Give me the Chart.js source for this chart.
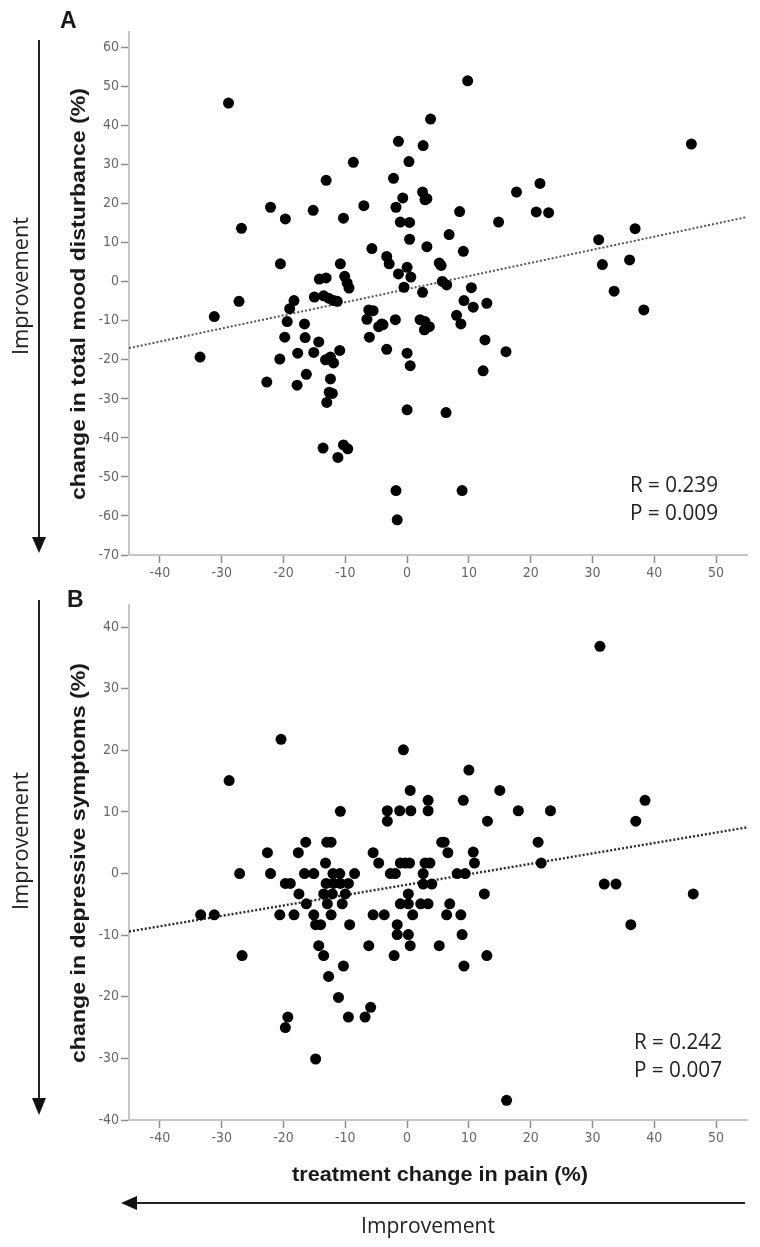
<!DOCTYPE html>
<html>
<head>
<meta charset="utf-8">
<script src="https://cdn.jsdelivr.net/npm/chart.js@4.4.0/dist/chart.umd.min.js"></script>
<style>
  html, body { margin: 0; padding: 0; background: #fff; }
  #wrap { position: relative; width: 760px; height: 1247px; overflow: hidden; }
  canvas { position: absolute; left: 0; }
  #chartA { top: 0; }
  #chartB { top: 590px; }
  #overlay { position: absolute; left: 0; top: 0; pointer-events: none; }
</style>
</head>
<body>
<div id="wrap">
  <canvas id="chartA" width="760" height="590"></canvas>
  <canvas id="chartB" width="760" height="657"></canvas>
  <svg id="overlay" width="760" height="1247" xmlns="http://www.w3.org/2000/svg">
    <g fill="#1a1a1a" font-family="'Liberation Sans', Arial, sans-serif" font-weight="bold">
      <text x="60" y="28" font-size="23">A</text>
      <text x="67" y="607" font-size="23">B</text>
      <text transform="translate(85,294) rotate(-90)" text-anchor="middle" font-size="20"
            textLength="412" lengthAdjust="spacingAndGlyphs">change in total mood disturbance (%)</text>
      <text transform="translate(85,863) rotate(-90)" text-anchor="middle" font-size="20"
            textLength="400" lengthAdjust="spacingAndGlyphs">change in depressive symptoms (%)</text>
      <text x="440" y="1181" text-anchor="middle" font-size="21"
            font-family="'Liberation Sans Narrow', 'Liberation Sans', Arial, sans-serif"
            textLength="296" lengthAdjust="spacingAndGlyphs">treatment change in pain (%)</text>
    </g>
    <g fill="#222" font-family="'Open Sans', 'Noto Sans', sans-serif" font-size="21">
      <text transform="translate(28,286) rotate(-90)" text-anchor="middle"
            textLength="138" lengthAdjust="spacingAndGlyphs">Improvement</text>
      <text transform="translate(28,841) rotate(-90)" text-anchor="middle"
            textLength="138" lengthAdjust="spacingAndGlyphs">Improvement</text>
      <text x="428" y="1233" text-anchor="middle" textLength="134" lengthAdjust="spacingAndGlyphs">Improvement</text>
      <text x="630" y="492" textLength="88" lengthAdjust="spacingAndGlyphs">R = 0.239</text>
      <text x="630" y="520" textLength="88" lengthAdjust="spacingAndGlyphs">P = 0.009</text>
      <text x="634" y="1049" textLength="88" lengthAdjust="spacingAndGlyphs">R = 0.242</text>
      <text x="634" y="1077" textLength="88" lengthAdjust="spacingAndGlyphs">P = 0.007</text>
    </g>
    <g stroke="#222" stroke-width="2" fill="#111">
      <line x1="39" y1="40" x2="39" y2="540" />
      <polygon points="32,537 46,537 39,553" stroke="none" />
      <line x1="39" y1="600" x2="39" y2="1100" />
      <polygon points="32,1098 46,1098 39,1115" stroke="none" />
      <line x1="745" y1="1203" x2="134" y2="1203" />
      <polygon points="121,1203 137,1196 137,1210" stroke="none" />
    </g>
  </svg>
</div>
<script>
// treatment change in pain (%) vs change in total mood disturbance (%)
const painA = [-28.9, -8.7, -13.1, -22.1, -15.2, -7.0, -19.7, -10.3, -26.8, -5.7,
  -20.5, -10.8, -14.2, -13.1, -10.1, -9.7, -9.4, 9.8, 3.8, -1.4,
  2.6, 0.3, 46.0, -2.2, 2.5, 2.9, 3.2, -0.7, -1.8, 17.7,
  21.5, 20.9, 22.9, 8.5, 14.8, -1.1, 0.4, 6.8, 0.4, 3.2,
  9.1, 36.9, 31.0, 31.6, 36.0, -3.3, -2.9, 0.0, -1.4, 0.6,
  -0.5, 5.2, 5.5, 5.7, 6.4, 2.5, 10.4, 33.5, 38.3, 9.2,
  10.7, 12.9, 8.0, 8.7, -1.9, -3.9, 2.1, 2.9, 3.6, 2.8,
  12.6, 16.0, -3.3, 0.0, 0.5, 12.3, 0.0, 6.3, -1.8, 8.9,
  -1.6, -27.2, -31.2, -33.5, -18.3, -19.0, -19.4, -19.8, -20.6, -22.7,
  -17.8, -17.7, -16.3, -16.6, -16.5, -15.1, -14.3, -15.0, -13.5, -12.7,
  -11.9, -11.3, -13.2, -12.4, -11.9, -10.9, -12.4, -12.6, -12.1, -13.0,
  -13.6, -11.2, -10.3, -9.6, -6.2, -5.5, -6.5, -6.1, -4.6, -4.1];
const moodA = [45.8, 30.6, 26.0, 19.1, 18.3, 19.5, 16.1, 16.3, 13.7, 8.5,
  4.6, 4.6, 0.7, 1.0, 1.4, -0.3, -1.6, 51.5, 41.7, 36.0,
  34.9, 30.8, 35.3, 26.5, 23.0, 21.0, 21.3, 21.5, 19.1, 23.0,
  25.2, 17.9, 17.7, 18.0, 15.3, 15.3, 15.2, 12.1, 10.9, 9.0,
  7.8, 13.6, 10.8, 4.4, 5.6, 6.5, 4.6, 3.7, 2.0, 1.2,
  -1.4, 4.8, 4.2, 0.1, -0.8, -2.7, -1.5, -2.4, -7.2, -4.8,
  -6.5, -5.5, -8.6, -10.8, -9.7, -11.0, -9.7, -10.2, -11.5, -12.3,
  -14.9, -17.9, -17.3, -18.3, -21.5, -22.8, -32.8, -33.5, -53.5, -53.5,
  -61.0, -5.0, -8.9, -19.3, -4.8, -6.9, -10.2, -14.2, -19.8, -25.7,
  -26.5, -18.3, -23.7, -10.8, -14.3, -18.1, -15.4, -3.9, -3.6, -4.2,
  -4.8, -5.0, -20.0, -19.3, -20.8, -17.6, -24.9, -28.3, -28.6, -30.9,
  -42.6, -45.0, -41.8, -42.8, -7.2, -7.4, -9.6, -14.2, -11.5, -10.8];

// treatment change in pain (%) vs change in depressive symptoms (%)
const painB = [-20.4, -28.8, -10.8, -22.6, -17.6, -16.4, -13.0, -12.3, -13.2, -5.5,
  -4.6, 31.2, -0.6, 10.0, 0.5, 15.0, 3.4, 9.1, 38.5, -3.2,
  -1.2, 0.6, 3.4, 18.0, 23.2, -3.2, 13.0, 37.0, 5.6, 6.0,
  6.6, 10.7, 10.9, 21.2, 21.7, -1.1, 0.4, -0.3, 2.9, 3.7,
  -2.7, -1.9, 2.6, 2.6, 4.0, 8.1, 9.4, 31.9, 33.8, 46.3,
  12.5, 0.2, -1.1, 0.2, 2.2, 3.4, 6.9, -3.7, 0.9, 6.4,
  8.7, 36.2, -1.6, -1.6, 0.2, 0.5, 8.9, 5.2, -2.1, 12.9,
  9.2, 16.1, -27.1, -22.1, -16.6, -15.1, -12.0, -10.9, -8.5, -19.7,
  -18.9, -13.1, -11.9, -10.8, -9.5, -17.5, -13.5, -12.1, -10.0, -16.3,
  -12.9, -10.5, -33.4, -31.2, -20.6, -18.3, -15.1, -12.3, -5.5, -14.8,
  -14.0, -9.3, -14.3, -6.2, -13.5, -26.7, -10.3, -12.7, -11.1, -9.5,
  -6.8, -5.9, -19.3, -19.7, -14.8];
const depB = [21.8, 15.1, 10.1, 3.4, 3.4, 5.1, 5.1, 5.1, 1.7, 3.4,
  1.7, 36.9, 20.1, 16.8, 13.5, 13.5, 11.9, 11.9, 11.9, 10.2,
  10.2, 10.2, 10.2, 10.2, 10.2, 8.5, 8.5, 8.5, 5.1, 5.1,
  3.4, 3.5, 1.7, 5.1, 1.7, 1.7, 1.7, 1.7, 1.7, 1.7,
  0, 0, 0, -1.7, -1.7, 0, 0, -1.7, -1.7, -3.3,
  -3.3, -3.3, -4.9, -4.9, -4.9, -4.9, -4.9, -6.7, -6.7, -6.7,
  -6.7, -8.3, -8.3, -9.9, -9.9, -11.7, -9.9, -11.7, -13.3, -13.3,
  -15.0, -36.8, 0, 0, 0, 0, 0, 0, 0, -1.6,
  -1.6, -1.6, -1.6, -1.6, -1.6, -3.3, -3.3, -3.3, -3.3, -4.9,
  -4.9, -4.9, -6.7, -6.7, -6.7, -6.7, -6.7, -6.7, -6.7, -8.3,
  -8.3, -8.3, -11.7, -11.7, -13.3, -13.3, -15.0, -16.7, -20.1, -23.3,
  -23.3, -21.7, -23.3, -25.0, -30.1];

// fit lines (ends at the x-axis limits)
const fitX = [-45, 55];
const fitA = [-17.0, 16.6];
const fitB = [-9.4, 7.5];

const xTicks = [-40, -30, -20, -10, 0, 10, 20, 30, 40, 50];
const yTicksA = [-70, -60, -50, -40, -30, -20, -10, 0, 10, 20, 30, 40, 50, 60];
const yTicksB = [-40, -30, -20, -10, 0, 10, 20, 30, 40];

const TICK_FONT = { family: "'Liberation Sans Narrow', 'DejaVu Sans Condensed', Arial, sans-serif", size: 14 };

function axis(min, max, ticks, fit) {
    return {
        type: 'linear',
        min: min,
        max: max,
        afterBuildTicks: (scale) => { scale.ticks = ticks.map(v => ({ value: v })); },
        afterFit: fit,
        border: { color: '#c6c6c6', width: 2 },
        grid: { drawOnChartArea: false, drawTicks: true, tickLength: 8, tickColor: '#8c8c8c', tickWidth: 1.5 },
        ticks: { color: '#666', font: TICK_FONT, padding: 2, autoSkip: false, maxRotation: 0 }
    };
}

function makeChart(id, xs, ys, fitY, yMin, yMax, yTicks, padding, lineColor, lineWidth) {
    return new Chart(document.getElementById(id), {
        type: 'scatter',
        data: {
            datasets: [{
                data: xs.map((x, i) => ({ x: x, y: ys[i] })),
                backgroundColor: '#000',
                borderColor: '#000',
                pointRadius: 5.5,
                pointBorderWidth: 0
            }, {
                data: fitX.map((x, i) => ({ x: x, y: fitY[i] })),
                showLine: true,
                pointRadius: 0,
                borderColor: lineColor,
                borderWidth: lineWidth,
                borderDash: [2, 2]
            }]
        },
        options: {
            responsive: false,
            animation: false,
            layout: { padding: padding, autoPadding: false },
            plugins: { legend: { display: false }, tooltip: { enabled: false } },
            scales: {
                x: axis(-45, 55, xTicks, (s) => { s.height = 35; }),
                y: axis(yMin, yMax, yTicks, (s) => { s.width = 40; })
            }
        }
    });
}

makeChart('chartA', painA, moodA, fitA, -70, 64, yTicksA,
    { left: 89, right: 13, top: 32, bottom: 0 }, '#555', 2);
makeChart('chartB', painB, depB, fitB, -40, 43.6, yTicksB,
    { left: 89, right: 13, top: 15, bottom: 92 }, '#2a2a2a', 2.4);
</script>
</body>
</html>
